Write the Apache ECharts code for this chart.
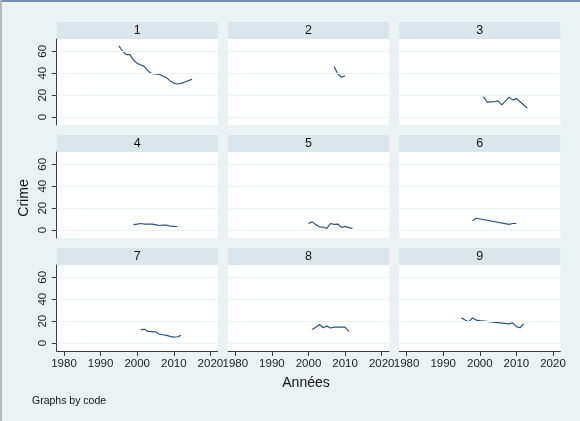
<!DOCTYPE html>
<html><head><meta charset="utf-8">
<script src="https://cdn.jsdelivr.net/npm/echarts@6/dist/echarts.min.js"></script>
<style>
html,body{margin:0;padding:0;background:#eaf2f3;overflow:hidden}
#c{position:absolute;left:0;top:0;width:580px;height:421px}
#bt{position:absolute;left:0;top:0;width:580px;height:2px;background:#7391b4}
#bl{position:absolute;left:0;top:0;width:2px;height:421px;background:#b4b8ba}
</style>
</head><body><div id="c"></div><div id="bt"></div><div id="bl"></div>
<script>
const panelCodes = ['1','2','3','4','5','6','7','8','9'];
const xTicks = [1980, 1990, 2000, 2010, 2020];
const yTicks = [0, 20, 40, 60];

const p1Years = [1995,1996,1997,1998,1999,2000,2001,2002,2003,2004,2005,2006,2007,2008,2009,2010,2011,2012,2013,2014,2015];
const p1Crime = [65,60,57,57,52,49,47.5,46,42,39.5,39.3,39,37.5,36,33,31,30.2,30.8,32,33.2,34.5];
const p2Years = [2007,2008,2009,2010];
const p2Crime = [46,39.5,36.5,37.5];
const p3Years = [2001,2002,2003,2004,2005,2006,2007,2008,2009,2010,2011,2012,2013];
const p3Crime = [18.7,13.6,13.8,14,14.8,11.2,14.5,18.2,15.7,16.9,14,11,8.2];
const p4Years = [1999,2000,2001,2002,2003,2004,2005,2006,2007,2008,2009,2010,2011];
const p4Crime = [5,5.5,6,5.5,5.5,5.5,5,4.2,4.5,4.6,3.5,3.4,3.3];
const p5Years = [2000,2001,2002,2003,2004,2005,2006,2007,2008,2009,2010,2011,2012];
const p5Crime = [6,7.5,5,3,2.8,1.5,6,5.2,5.5,2.5,3.4,2.3,1.5];
const p6Years = [1998,1999,2008,2009,2010];
const p6Crime = [8.5,10.8,5.2,6,6];
const p7Years = [2001,2002,2003,2004,2005,2006,2007,2008,2009,2010,2011,2012];
const p7Crime = [12,12.7,10.6,10.5,10.3,8.2,7.6,7,6.2,5.5,5.8,7];
const p8Years = [2001,2002,2003,2004,2005,2006,2007,2008,2009,2010,2011];
const p8Crime = [12.5,14.5,17,14,15.5,13.8,14.5,14.5,14.5,14.5,10.5];
const p9Years = [1995,1996,1997,1998,1999,2000,2008,2009,2010,2011,2012];
const p9Crime = [23,21,19.5,23,21,20.5,17.5,18.5,15,14,17.5];

const panelYears = [p1Years,p2Years,p3Years,p4Years,p5Years,p6Years,p7Years,p8Years,p9Years];
const panelCrime = [p1Crime,p2Crime,p3Crime,p4Crime,p5Crime,p6Crime,p7Crime,p8Crime,p9Crime];

const L0 = 56.7, CW = 171.3, T0 = 39, RH = 113, PW = 161, PH = 86, HH = 17;
const FONT = 'Liberation Sans, Arial, sans-serif';
const axisCol = '#3a3a3a';
const plain = v => String(v);

const grids = [], xAxes = [], yAxes = [], series = [], graphics = [];
for (let i = 0; i < 9; i++) {
  const r = Math.floor(i / 3), c = i % 3;
  const left = L0 + CW * c, top = T0 + RH * r;
  grids.push({left: left, top: top, width: PW, height: PH, show: true,
    backgroundColor: '#ffffff', borderWidth: 0, containLabel: false});
  const bottomRow = r === 2;
  xAxes.push({type: 'value', gridIndex: i, min: 1978, max: 2022,
    axisLine: {show: bottomRow, onZero: false, lineStyle: {color: axisCol, width: 1}},
    axisTick: {show: bottomRow, length: 5, customValues: xTicks, lineStyle: {color: axisCol}},
    axisLabel: {show: bottomRow, customValues: xTicks, formatter: plain, margin: 7, fontSize: 11.5,
      color: '#222', fontFamily: FONT},
    splitLine: {show: false}});
  const leftCol = c === 0;
  yAxes.push({type: 'value', gridIndex: i, min: -7.2, max: 71.2,
    axisLine: {show: leftCol, lineStyle: {color: axisCol, width: 1}},
    axisTick: {show: leftCol, length: 5, customValues: yTicks, lineStyle: {color: axisCol}},
    axisLabel: {show: leftCol, customValues: yTicks, formatter: plain, rotate: 90, margin: 8, fontSize: 11.5,
      color: '#222', fontFamily: FONT},
    splitLine: {show: false}});
  series.push({type: 'line', xAxisIndex: i, yAxisIndex: i, data: [], z: 1, silent: true,
    markLine: {silent: true, symbol: 'none', animation: false, label: {show: false},
      lineStyle: {color: '#eaf2f3', width: 1, type: 'solid'},
      data: yTicks.map(v => ({yAxis: v}))}});
  series.push({type: 'line', xAxisIndex: i, yAxisIndex: i, z: 3,
    showSymbol: false, symbol: 'none', animation: false,
    lineStyle: {color: '#2c5581', width: 1.2},
    data: panelYears[i].map((y, k) => [y, panelCrime[i][k]])});
  graphics.push({type: 'rect', shape: {x: left, y: top - HH, width: PW, height: HH},
    style: {fill: '#d9e6eb'}, silent: true});
  graphics.push({type: 'text', x: left + PW / 2, y: top - HH / 2,
    style: {text: panelCodes[i], fontSize: 12.5, fill: '#111', fontFamily: FONT,
      align: 'center', verticalAlign: 'middle'}, silent: true});
}
graphics.push({type: 'text', x: 24, y: 198, rotation: Math.PI / 2,
  style: {text: 'Crime', fontSize: 14, fill: '#111', fontFamily: FONT,
    align: 'center', verticalAlign: 'middle'}});
graphics.push({type: 'text', x: 306, y: 383,
  style: {text: 'Années', fontSize: 14, fill: '#111', fontFamily: FONT,
    align: 'center', verticalAlign: 'middle'}});
graphics.push({type: 'text', x: 32, y: 401,
  style: {text: 'Graphs by code', fontSize: 10.5, fill: '#111', fontFamily: FONT,
    align: 'left', verticalAlign: 'middle'}});

const chart = echarts.init(document.getElementById('c'), null, {renderer: 'canvas'});
chart.setOption({
  backgroundColor: '#eaf2f3',
  animation: false,
  grid: grids, xAxis: xAxes, yAxis: yAxes, series: series,
  graphic: graphics
});
</script>
</body></html>
